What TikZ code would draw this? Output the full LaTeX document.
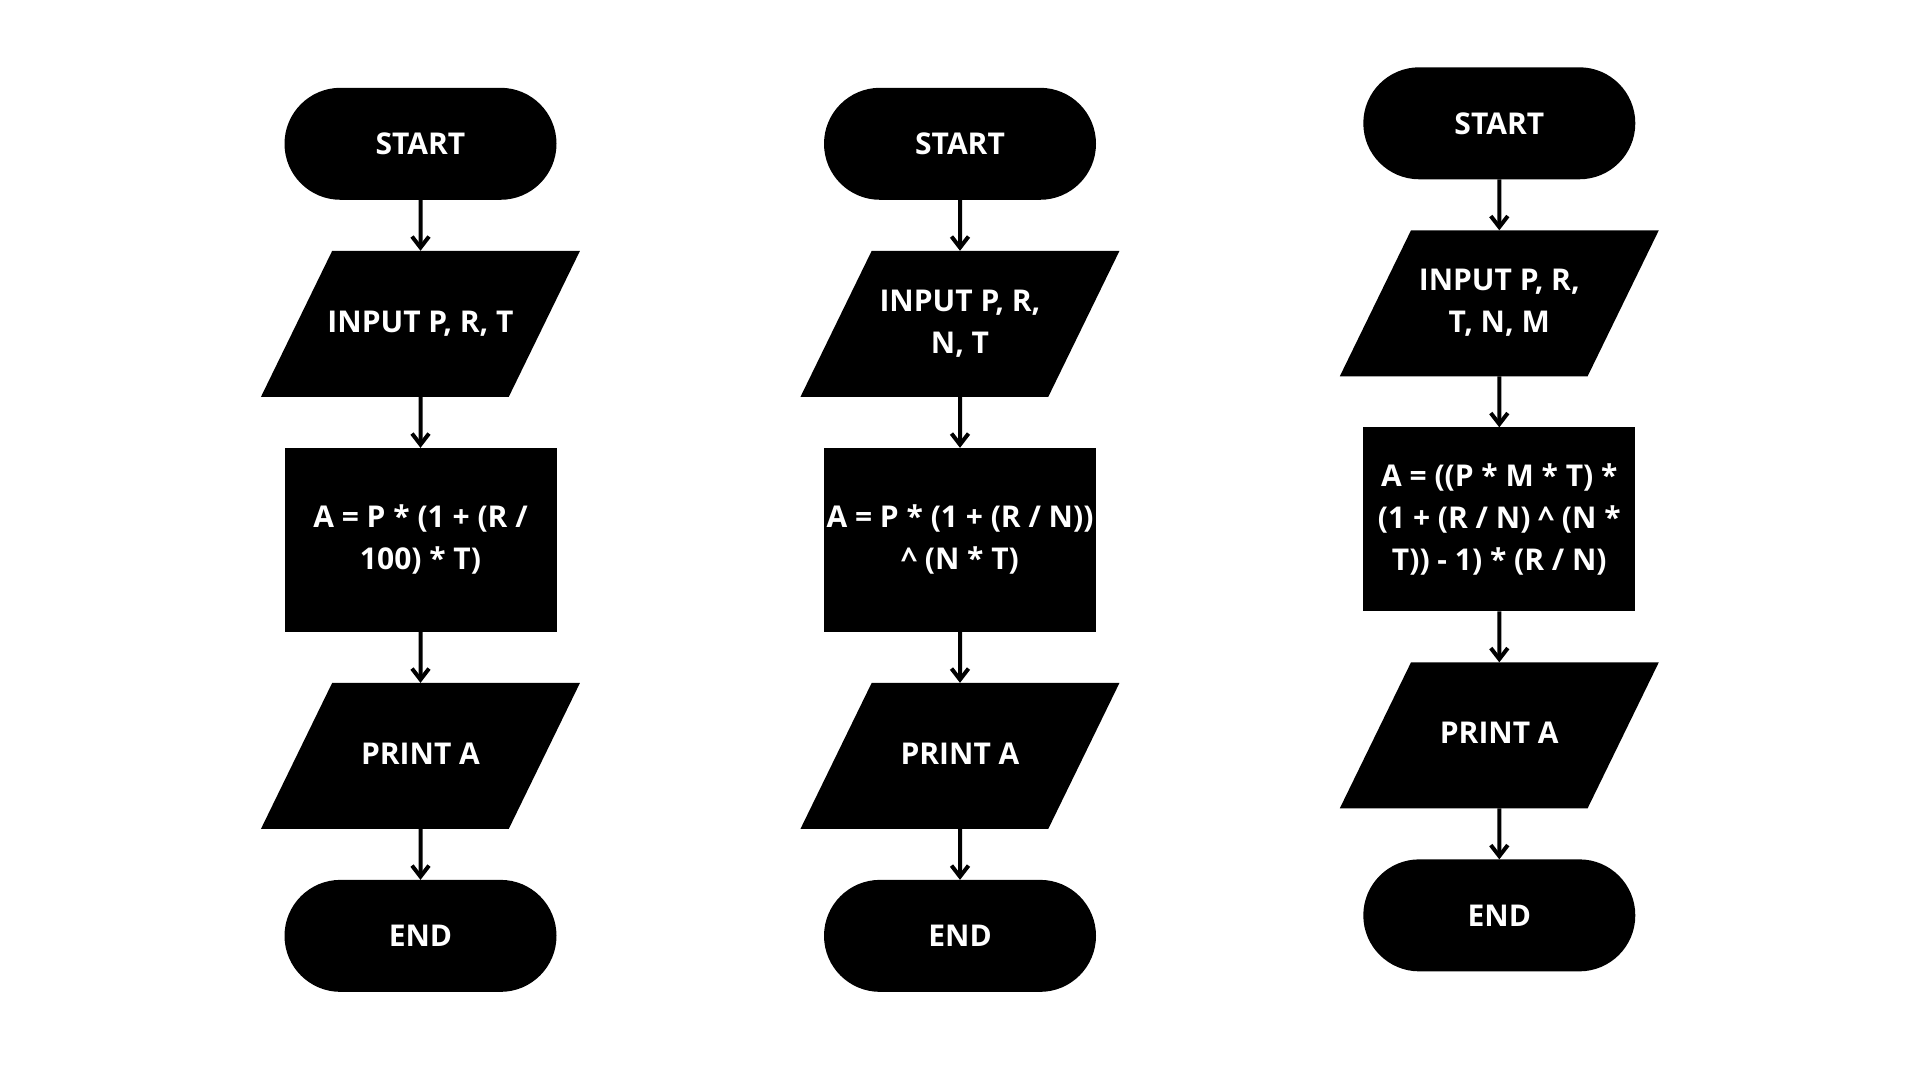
\documentclass[tikz,border=0pt]{standalone}
\usepackage{fontspec}
\setmainfont{Open Sans}
\usetikzlibrary{positioning,shapes.geometric,arrows.meta}
\newcommand\iotext[1]{\vbox to 146pt{\vss\hbox to 150pt{\hss\begin{tabular}{@{}c@{}}#1\end{tabular}\hss}\vss}}
\begin{document}
\begin{tikzpicture}[>={Straight Barb[length=11pt,width=17pt]},x=1pt,y=1pt,node distance=51pt,
			font=\fontsize{30}{42}\selectfont\bfseries,
			every node/.style={fill=black,text=white,inner sep=0pt,outer sep=0pt},
			term/.style={rectangle,rounded corners=56pt,minimum width=272pt,minimum height=112pt},
			io/.style={trapezium,trapezium left angle=64,trapezium right angle=116,trapezium stretches body,minimum width=319pt},
			proc/.style={rectangle,align=center,minimum width=272pt,minimum height=184pt},
			flow/.style={->,line width=4pt}]
			\fill[white] (0,0) rectangle (1920,1080);
			\def\ya{936.2}
			\def\yc{956.7}
			\node[term] (start1) at (420.5,\ya) {START};
			\node[io,below=of start1] (in1) {\iotext{INPUT P, R, T}};
			\node[proc,below=of in1] (calc1) {A = P * (1 + (R /\\100) * T)};
			\node[io,below=of calc1] (out1) {\iotext{PRINT A}};
			\node[term,below=of out1] (end1) {END};
			\node[term] (start2) at (960,\ya) {START};
			\node[io,below=of start2] (in2) {\iotext{INPUT P, R,\\N, T}};
			\node[proc,below=of in2] (calc2) {A = P * (1 + (R / N))\\\^{} (N * T)};
			\node[io,below=of calc2] (out2) {\iotext{PRINT A}};
			\node[term,below=of out2] (end2) {END};
			\node[term] (start3) at (1499.3,\yc) {START};
			\node[io,below=of start3] (in3) {\iotext{INPUT P, R,\\T, N, M}};
			\node[proc,below=of in3] (calc3) {A = ((P * M * T) *\\(1 + (R / N) \^{} (N *\\T)) - 1) * (R / N)};
			\node[io,below=of calc3] (out3) {\iotext{PRINT A}};
			\node[term,below=of out3] (end3) {END};
			\draw[flow] (start1) -- (in1);
			\draw[flow] (in1) -- (calc1);
			\draw[flow] (calc1) -- (out1);
			\draw[flow] (out1) -- (end1);
			\draw[flow] (start2) -- (in2);
			\draw[flow] (in2) -- (calc2);
			\draw[flow] (calc2) -- (out2);
			\draw[flow] (out2) -- (end2);
			\draw[flow] (start3) -- (in3);
			\draw[flow] (in3) -- (calc3);
			\draw[flow] (calc3) -- (out3);
			\draw[flow] (out3) -- (end3);
			\end{tikzpicture}
\end{document}
